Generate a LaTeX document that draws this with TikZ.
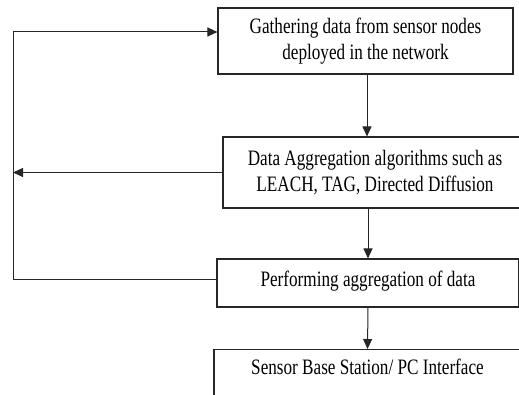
\documentclass[tikz,border=0pt]{standalone}
\usepackage{fontspec}
\setmainfont{Liberation Serif}[FakeStretch=0.78]
\usetikzlibrary{arrows.meta,calc}

\tikzset{
  stage/.style={draw=black!85, line width=1.1pt, align=center, inner sep=0pt,
    font=\fontsize{22pt}{26.5pt}\selectfont, text=black},
  flow/.style={draw=black!85, line width=1pt, -{Triangle[length=10pt,width=9pt]}},
  wire/.style={draw=black!85, line width=1pt}
}

\begin{document}
\begin{tikzpicture}[x=1pt,y=-1pt]
  \clip (0,0) rectangle (519,395);
  \useasboundingbox (0,0) rectangle (519,395);

  % process stages
  \node[stage, minimum width=295, minimum height=66] (b1) at (365.5,41)
    {Gathering data from sensor nodes\\deployed in the network};
  \node[stage, minimum width=304, minimum height=71] (b2) at (375,172.5)
    {Data Aggregation algorithms such as\\LEACH, TAG, Directed Diffusion};
  \node[stage, minimum width=302, minimum height=48, text depth=9pt] (b3) at (368,283)
    {Performing aggregation of data};
  \node[stage, minimum width=307, anchor=north, text depth=60pt, inner ysep=9pt] (b4) at (367.5,349)
    {Sensor Base Station/ PC Interface};

  % feedback loop on the left
  \coordinate (looptop) at (13,32);
  \coordinate (loopbot) at (13,279);

  % main flow
  \draw[flow] (b1.south -| 367,0) -- (b2.north -| 367,0);
  \draw[flow] (b3.north |- b2.south) -- (b3.north);
  \draw[flow] (b3.south) -- (b4.north);

  % feedback connectors
  \draw[wire] (b3.west |- loopbot) -- (loopbot) -- (looptop);
  \draw[flow] (looptop) -- (b1.west |- looptop);
  \draw[flow] (b2.west) -- (b2.west -| loopbot);
\end{tikzpicture}
\end{document}
